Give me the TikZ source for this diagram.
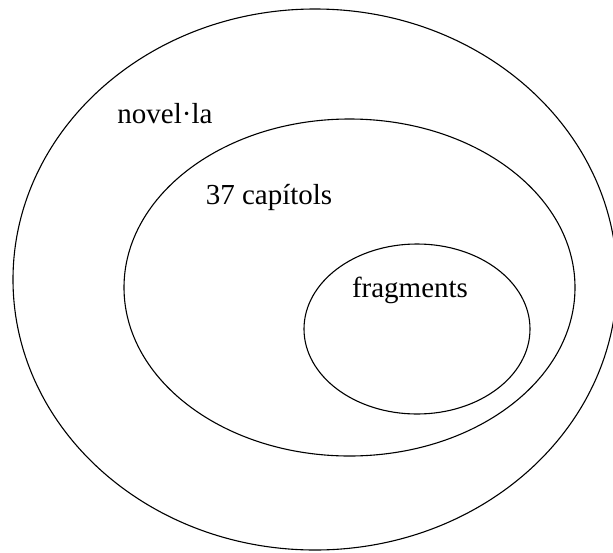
\documentclass[tikz,border=0pt]{standalone}
\usepackage{fontspec}
\setmainfont{Liberation Serif}
\usetikzlibrary{positioning}

\begin{document}
\begin{tikzpicture}[
    x=1pt, y=-1pt,
    every node/.style={font=\fontsize{29}{34}\selectfont, inner sep=0pt, anchor=base},
    setline/.style={draw=black, line width=1.1pt}
]
\useasboundingbox (0,0) rectangle (613,552);
% Sets
\draw[setline] (315,279.5) ellipse [x radius=302, y radius=270.5];
\draw[setline] (349.5,287.5) ellipse [x radius=225.5, y radius=168.5];
\draw[setline] (417,329) ellipse [x radius=113, y radius=85];
% Labels
\node (novella)   at (165,123) {novel·la};
\node (capitols)  at (269,204) {37 capítols};
\node (fragments) at (410,297) {fragments};
\end{tikzpicture}
\end{document}
